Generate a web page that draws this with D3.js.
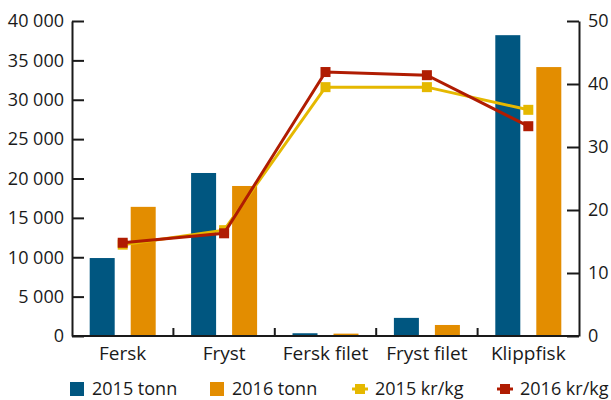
<!DOCTYPE html>
<html>
<head>
<meta charset="utf-8">
<script src="https://cdn.jsdelivr.net/npm/d3@7"></script>
<style>
  body { margin: 0; background: #fff; }
  text { font-family: "Open Sans", sans-serif; fill: #1a1a1a; }
</style>
</head>
<body>
<div id="chart"></div>
<script>
// data
var categories = ["Fersk", "Fryst", "Fersk filet", "Fryst filet", "Klippfisk"];
var tonn2015 = [9900, 20700, 350, 2300, 38200];
var tonn2016 = [16400, 19050, 300, 1400, 34150];
var krkg2015 = [14.5, 16.8, 39.5, 39.5, 35.9];
var krkg2016 = [14.8, 16.3, 41.9, 41.4, 33.3];
var leftTicks = [0, 5000, 10000, 15000, 20000, 25000, 30000, 35000, 40000];
var rightTicks = [0, 10, 20, 30, 40, 50];

var width = 611, height = 400;
var plotLeft = 72, plotRight = 579, plotTop = 21, plotBottom = 336;
var colors = {t15: "#005680", t16: "#e38d00", k15: "#e5b800", k16: "#b01c02"};

var svg = d3.select("#chart").append("svg")
    .attr("width", width)
    .attr("height", height);

var x = d3.scaleBand()
    .domain(categories)
    .range([plotLeft, plotRight]);

var y = d3.scaleLinear()
    .domain([0, 40000])
    .range([plotBottom, plotTop]);

var y2 = d3.scaleLinear()
    .domain([0, 50])
    .range([plotBottom, plotTop]);

var fmt = function(d) { return d3.format(",")(d).replace(/,/g, " "); };

//left axis
var yAxis = d3.axisRight(y)
    .tickValues(leftTicks)
    .tickSize(12)
    .tickSizeOuter(0)
    .tickFormat(function(d) { return ""; });

svg.append("g")
    .attr("transform", "translate(" + plotLeft + ",0)")
    .call(yAxis)
    .call(function(g) {
        g.select(".domain").attr("stroke", "#1a1a1a").attr("stroke-width", 2);
        g.selectAll(".tick line").attr("stroke", "#1a1a1a").attr("stroke-width", 2);
    });

svg.append("g").selectAll("text")
    .data(leftTicks)
    .enter()
    .append("text")
    .attr("x", plotLeft - 8)
    .attr("y", function(d) { return y(d); })
    .attr("dy", "0.35em")
    .attr("text-anchor", "end")
    .style("font-size", "18px")
    .text(fmt);

//right axis
var yAxis2 = d3.axisLeft(y2)
    .tickValues(rightTicks)
    .tickSize(12)
    .tickSizeOuter(0)
    .tickFormat(function(d) { return ""; });

svg.append("g")
    .attr("transform", "translate(" + plotRight + ",0)")
    .call(yAxis2)
    .call(function(g) {
        g.select(".domain").attr("stroke", "#1a1a1a").attr("stroke-width", 2);
        g.selectAll(".tick line").attr("stroke", "#1a1a1a").attr("stroke-width", 2);
    });

svg.append("g").selectAll("text")
    .data(rightTicks)
    .enter()
    .append("text")
    .attr("x", plotRight + 9)
    .attr("y", function(d) { return y2(d); })
    .attr("dy", "0.35em")
    .attr("text-anchor", "start")
    .style("font-size", "18px")
    .text(function(d) { return d; });

//bars
var barW = 25;
svg.append("g").selectAll("rect")
    .data(tonn2015)
    .enter()
    .append("rect")
    .attr("x", function(d, i) { return x(categories[i]) + x.bandwidth() / 2 - 33; })
    .attr("y", function(d) { return y(d); })
    .attr("width", barW)
    .attr("height", function(d) { return plotBottom - y(d); })
    .style("fill", colors.t15);

svg.append("g").selectAll("rect")
    .data(tonn2016)
    .enter()
    .append("rect")
    .attr("x", function(d, i) { return x(categories[i]) + x.bandwidth() / 2 + 8; })
    .attr("y", function(d) { return y(d); })
    .attr("width", barW)
    .attr("height", function(d) { return plotBottom - y(d); })
    .style("fill", colors.t16);

//x axis
svg.append("line")
    .attr("x1", plotLeft).attr("x2", plotRight)
    .attr("y1", plotBottom).attr("y2", plotBottom)
    .attr("stroke", "#1a1a1a").attr("stroke-width", 2);

svg.append("g").selectAll("line")
    .data(categories.slice(1))
    .enter()
    .append("line")
    .attr("x1", function(d) { return x(d); })
    .attr("x2", function(d) { return x(d); })
    .attr("y1", plotBottom)
    .attr("y2", plotBottom - 8)
    .attr("stroke", "#1a1a1a").attr("stroke-width", 2);

svg.append("g").selectAll("text")
    .data(categories)
    .enter()
    .append("text")
    .attr("x", function(d) { return x(d) + x.bandwidth() / 2; })
    .attr("y", 360)
    .attr("text-anchor", "middle")
    .style("font-size", "19px")
    .text(function(d) { return d; });

//lines
var line = d3.line()
    .x(function(d, i) { return x(categories[i]) + x.bandwidth() / 2; })
    .y(function(d) { return y2(d); });

[[krkg2015, colors.k15], [krkg2016, colors.k16]].forEach(function(s) {
    svg.append("path")
        .datum(s[0])
        .attr("d", line)
        .attr("fill", "none")
        .attr("stroke", s[1])
        .attr("stroke-width", 3);
    svg.append("g").selectAll("rect")
        .data(s[0])
        .enter()
        .append("rect")
        .attr("x", function(d, i) { return x(categories[i]) + x.bandwidth() / 2 - 5; })
        .attr("y", function(d) { return y2(d) - 5; })
        .attr("width", 10)
        .attr("height", 10)
        .style("fill", s[1]);
});

//legend
var legend = [
    {label: "2015 tonn", color: colors.t15, x: 70, type: "bar"},
    {label: "2016 tonn", color: colors.t16, x: 210, type: "bar"},
    {label: "2015 kr/kg", color: colors.k15, x: 352, type: "line"},
    {label: "2016 kr/kg", color: colors.k16, x: 497, type: "line"}
];
var ly = 389;
legend.forEach(function(l) {
    var g = svg.append("g");
    if (l.type == "bar") {
        g.append("rect")
            .attr("x", l.x).attr("y", ly - 7)
            .attr("width", 14).attr("height", 14)
            .style("fill", l.color);
    } else {
        g.append("line")
            .attr("x1", l.x).attr("x2", l.x + 16)
            .attr("y1", ly).attr("y2", ly)
            .attr("stroke", l.color).attr("stroke-width", 3);
        g.append("rect")
            .attr("x", l.x + 3).attr("y", ly - 5)
            .attr("width", 10).attr("height", 10)
            .style("fill", l.color);
    }
    g.append("text")
        .attr("x", l.x + (l.type == "bar" ? 22 : 23))
        .attr("y", ly)
        .attr("dy", "0.35em")
        .style("font-size", "18px")
        .text(l.label);
});
</script>
</body>
</html>
